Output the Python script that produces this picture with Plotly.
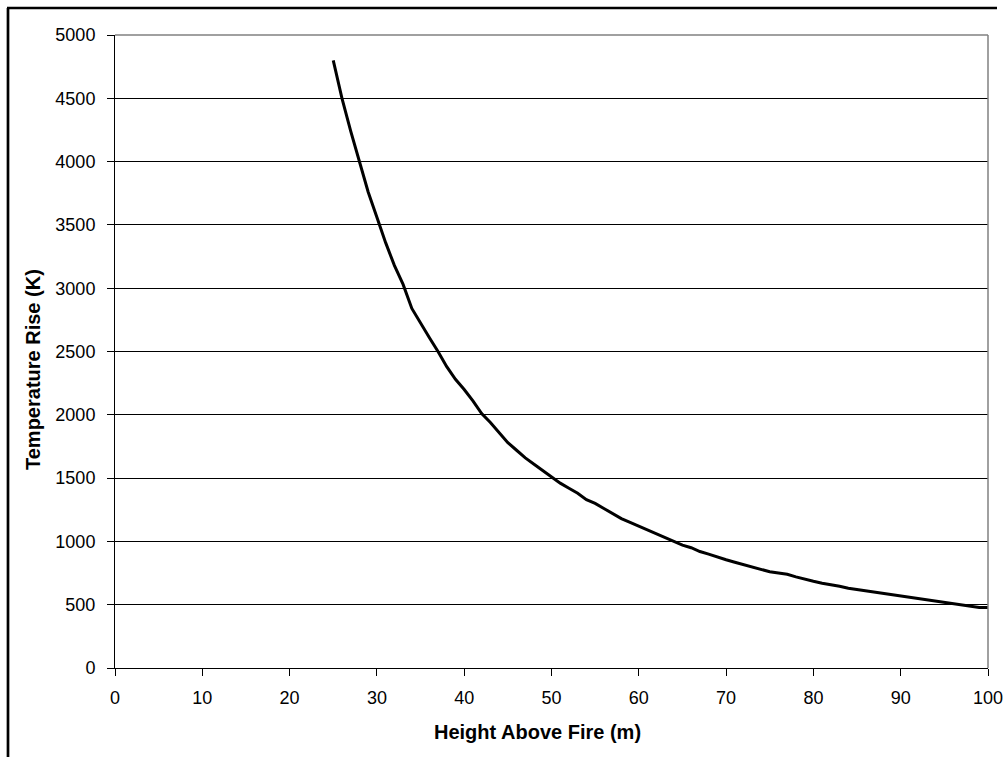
import plotly.graph_objects as go

height_m = list(range(25, 101))
temp_rise_k = [
    4800, 4500, 4240, 4000, 3760, 3560, 3360, 3180, 3030, 2840,
    2720, 2610, 2500, 2380, 2280, 2200, 2110, 2010, 1940, 1860,
    1780, 1720, 1660, 1610, 1560, 1510, 1460, 1420, 1380, 1330,
    1300, 1260, 1220, 1180, 1150, 1120, 1090, 1060, 1030, 1000,
    970, 950, 920, 900, 875, 855, 835, 815, 800, 780,
    760, 750, 740, 720, 700, 685, 670, 660, 645, 630,
    620, 610, 595, 590, 580, 565, 555, 545, 540, 525,
    515, 505, 500, 485, 478, 478,
]
x_ticks = list(range(0, 101, 10))
y_ticks = list(range(0, 5001, 500))
x_title = "Height Above Fire (m)"
y_title = "Temperature Rise (K)"

FONT = "Arial, Liberation Sans, sans-serif"

fig = go.Figure()
fig.add_trace(go.Scatter(
    x=height_m, y=temp_rise_k, mode="lines",
    line=dict(color="black", width=3), showlegend=False,
))

W, H = 1006, 757
L, R, T, B = 115, 18, 35, 89
pw, ph = W - L - R, H - T - B

def px(xp):
    return (xp - L) / pw

def py(yp):
    return (H - B - yp) / ph

fig.update_layout(
    width=W, height=H,
    margin=dict(l=L, r=R, t=T, b=B, pad=0, autoexpand=False),
    paper_bgcolor="white", plot_bgcolor="white",
    font=dict(family=FONT, size=18, color="black"),
    xaxis=dict(
        range=[0, 100], tickvals=x_ticks, ticktext=[str(v) for v in x_ticks],
        showgrid=False, zeroline=False, showline=True, linecolor="black", linewidth=1,
        ticks="outside", ticklen=7, tickcolor="black", tickwidth=1, automargin=False,
        tickfont=dict(family=FONT, size=18), ticklabelstandoff=6,
    ),
    yaxis=dict(
        range=[0, 5000], tickvals=y_ticks, ticktext=[str(v) for v in y_ticks],
        showgrid=True, gridcolor="black", gridwidth=1, zeroline=False,
        showline=True, linecolor="black", linewidth=1, automargin=False,
        ticks="outside", ticklen=7, tickcolor="black", tickwidth=1,
        tickfont=dict(family=FONT, size=18), ticklabelstandoff=8,
    ),
    shapes=[
        dict(type="line", xref="paper", yref="paper", x0=0, x1=1, y0=1, y1=1,
             line=dict(color="#808080", width=1.5), layer="above"),
        dict(type="line", xref="paper", yref="paper", x0=1, x1=1, y0=0, y1=1,
             line=dict(color="#808080", width=1.5), layer="above"),
        dict(type="line", xref="paper", yref="paper", x0=px(7), x1=px(997),
             y0=py(8), y1=py(8), line=dict(color="black", width=2.7)),
        dict(type="line", xref="paper", yref="paper", x0=px(8), x1=px(8),
             y0=py(8), y1=py(770), line=dict(color="black", width=2.7)),
    ],
    annotations=[
        dict(text=f"<b>{x_title}</b>", xref="paper", yref="paper",
             x=px(537), y=py(732), showarrow=False, xanchor="center", yanchor="middle",
             font=dict(family=FONT, size=20, color="black")),
        dict(text=f"<b>{y_title}</b>", xref="paper", yref="paper",
             x=px(33), y=py(370), showarrow=False, xanchor="center", yanchor="middle",
             textangle=-90, font=dict(family=FONT, size=20, color="black")),
    ],
)

fig.write_html(
    "out.html",
    config={"displayModeBar": False},
    post_script=(
        "document.documentElement.style.overflow='hidden';"
        "document.body.style.margin='0';document.body.style.overflow='hidden';"
    ),
)
